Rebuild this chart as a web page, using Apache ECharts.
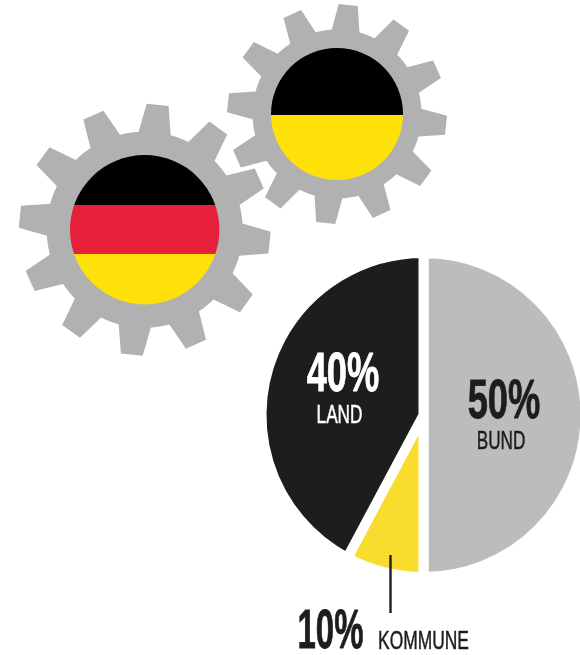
<!DOCTYPE html>
<html>
<head>
<meta charset="utf-8">
<title>Bund Land Kommune</title>
<script src="https://cdn.jsdelivr.net/npm/echarts@6/dist/echarts.min.js"></script>
<style>
html, body { margin: 0; padding: 0; background: #fff; }
#chart { width: 580px; height: 655px; }
</style>
</head>
<body>
<div id="chart"></div>
<script>
const categories = ['BUND', 'KOMMUNE', 'LAND']
// printed shares
const shareLabels = [50, 10, 40]
// slice sizes as drawn in the picture, the yellow wedge is narrower than its label says
const sliceValues = [50, 7.8, 42.2]
const sliceColors = ['#bcbcbc', '#f9dd2e', '#1d1d1b']

const gearGray = '#b1b1b1'

// polygon outline of a gear, arc sampled every 2 degrees between the teeth
function gearPoints (cx, cy, rBody, rTooth, teeth, offset) {
  let pts = []
  let step = 360 / teeth
  let toXY = function (r, deg) {
    let a = (deg - 90) * Math.PI / 180
    return [cx + r * Math.cos(a), cy + r * Math.sin(a)]
  }
  for (let i = 0; i < teeth; i++) {
    let c = offset + i * step
    pts.push(toXY(rBody, c - 9.5))
    pts.push(toXY(rTooth, c - 5))
    pts.push(toXY(rTooth, c + 5))
    pts.push(toXY(rBody, c + 9.5))
    for (let d = c + 11.5; d < c + step - 9.5; d += 2) {
      pts.push(toXY(rBody, d))
    }
  }
  return pts
}

// circle filled with hard colour stops
function flag (cx, cy, r, stops) {
  return {
    type: 'circle',
    silent: true,
    z: 100,
    shape: { cx: cx, cy: cy, r: r },
    style: {
      fill: { type: 'linear', x: 0, y: 0, x2: 0, y2: 1, colorStops: stops }
    }
  }
}

function gear (cx, cy, rBody, rTooth) {
  return {
    type: 'polygon',
    silent: true,
    z: 99,
    shape: { points: gearPoints(cx, cy, rBody, rTooth, 12, 5.9) },
    style: { fill: gearGray }
  }
}

function label (text, x, y, size, sx, color, weight, stroke) {
  return {
    type: 'text',
    silent: true,
    z: 100,
    x: x,
    y: y,
    scaleX: sx,
    style: {
      text: text,
      fill: color,
      stroke: color,
      lineWidth: stroke,
      align: 'center',
      verticalAlign: 'middle',
      fontFamily: '"Liberation Sans Narrow", "Liberation Sans", sans-serif',
      fontWeight: weight,
      fontSize: size
    }
  }
}

const dark = sliceColors[2]

let option = {
  animation: false,
  backgroundColor: '#fff',
  graphic: {
    z: 100,
    elements: [
      gear(144.7, 229.7, 98, 126),
      flag(144.7, 229.7, 74.7, [
        { offset: 0, color: '#000' }, { offset: 0.3348, color: '#000' },
        { offset: 0.3348, color: '#e62038' }, { offset: 0.6628, color: '#e62038' },
        { offset: 0.6628, color: '#ffe10a' }, { offset: 1, color: '#ffe10a' }
      ]),
      gear(337, 114, 84.5, 110),
      flag(337, 114, 66, [
        { offset: 0, color: '#000' }, { offset: 0.505, color: '#000' },
        { offset: 0.505, color: '#ffe10a' }, { offset: 1, color: '#ffe10a' }
      ]),
      label(shareLabels[2] + '%', 343, 376, 55, 0.66, '#fff', 'bold', 0.8),
      label(categories[2], 339.5, 415.5, 26, 0.66, '#fff', 'normal', 0.5),
      label(shareLabels[0] + '%', 504, 403, 55, 0.66, dark, 'bold', 0.8),
      label(categories[0], 501, 442, 26, 0.66, dark, 'normal', 0.5),
      label(shareLabels[1] + '%', 330.5, 633, 55, 0.6, dark, 'bold', 0.8),
      label(categories[1], 423.5, 642, 26, 0.67, dark, 'normal', 0.5),
      {
        type: 'line',
        silent: true,
        z: 100,
        shape: { x1: 390.5, y1: 555, x2: 390.5, y2: 613 },
        style: { stroke: dark, lineWidth: 2.4 }
      }
    ]
  },
  series: [{
    type: 'pie',
    silent: true,
    center: [423.5, 415],
    radius: [0, 162],
    startAngle: 90,
    clockwise: true,
    label: { show: false },
    labelLine: { show: false },
    itemStyle: { borderColor: '#fff', borderWidth: 10 },
    data: categories.map(function (name, i) {
      return { name: name, value: sliceValues[i], itemStyle: { color: sliceColors[i] } }
    })
  }]
}

let myChart = echarts.init(document.getElementById('chart'))
myChart.setOption(option)
</script>
</body>
</html>
